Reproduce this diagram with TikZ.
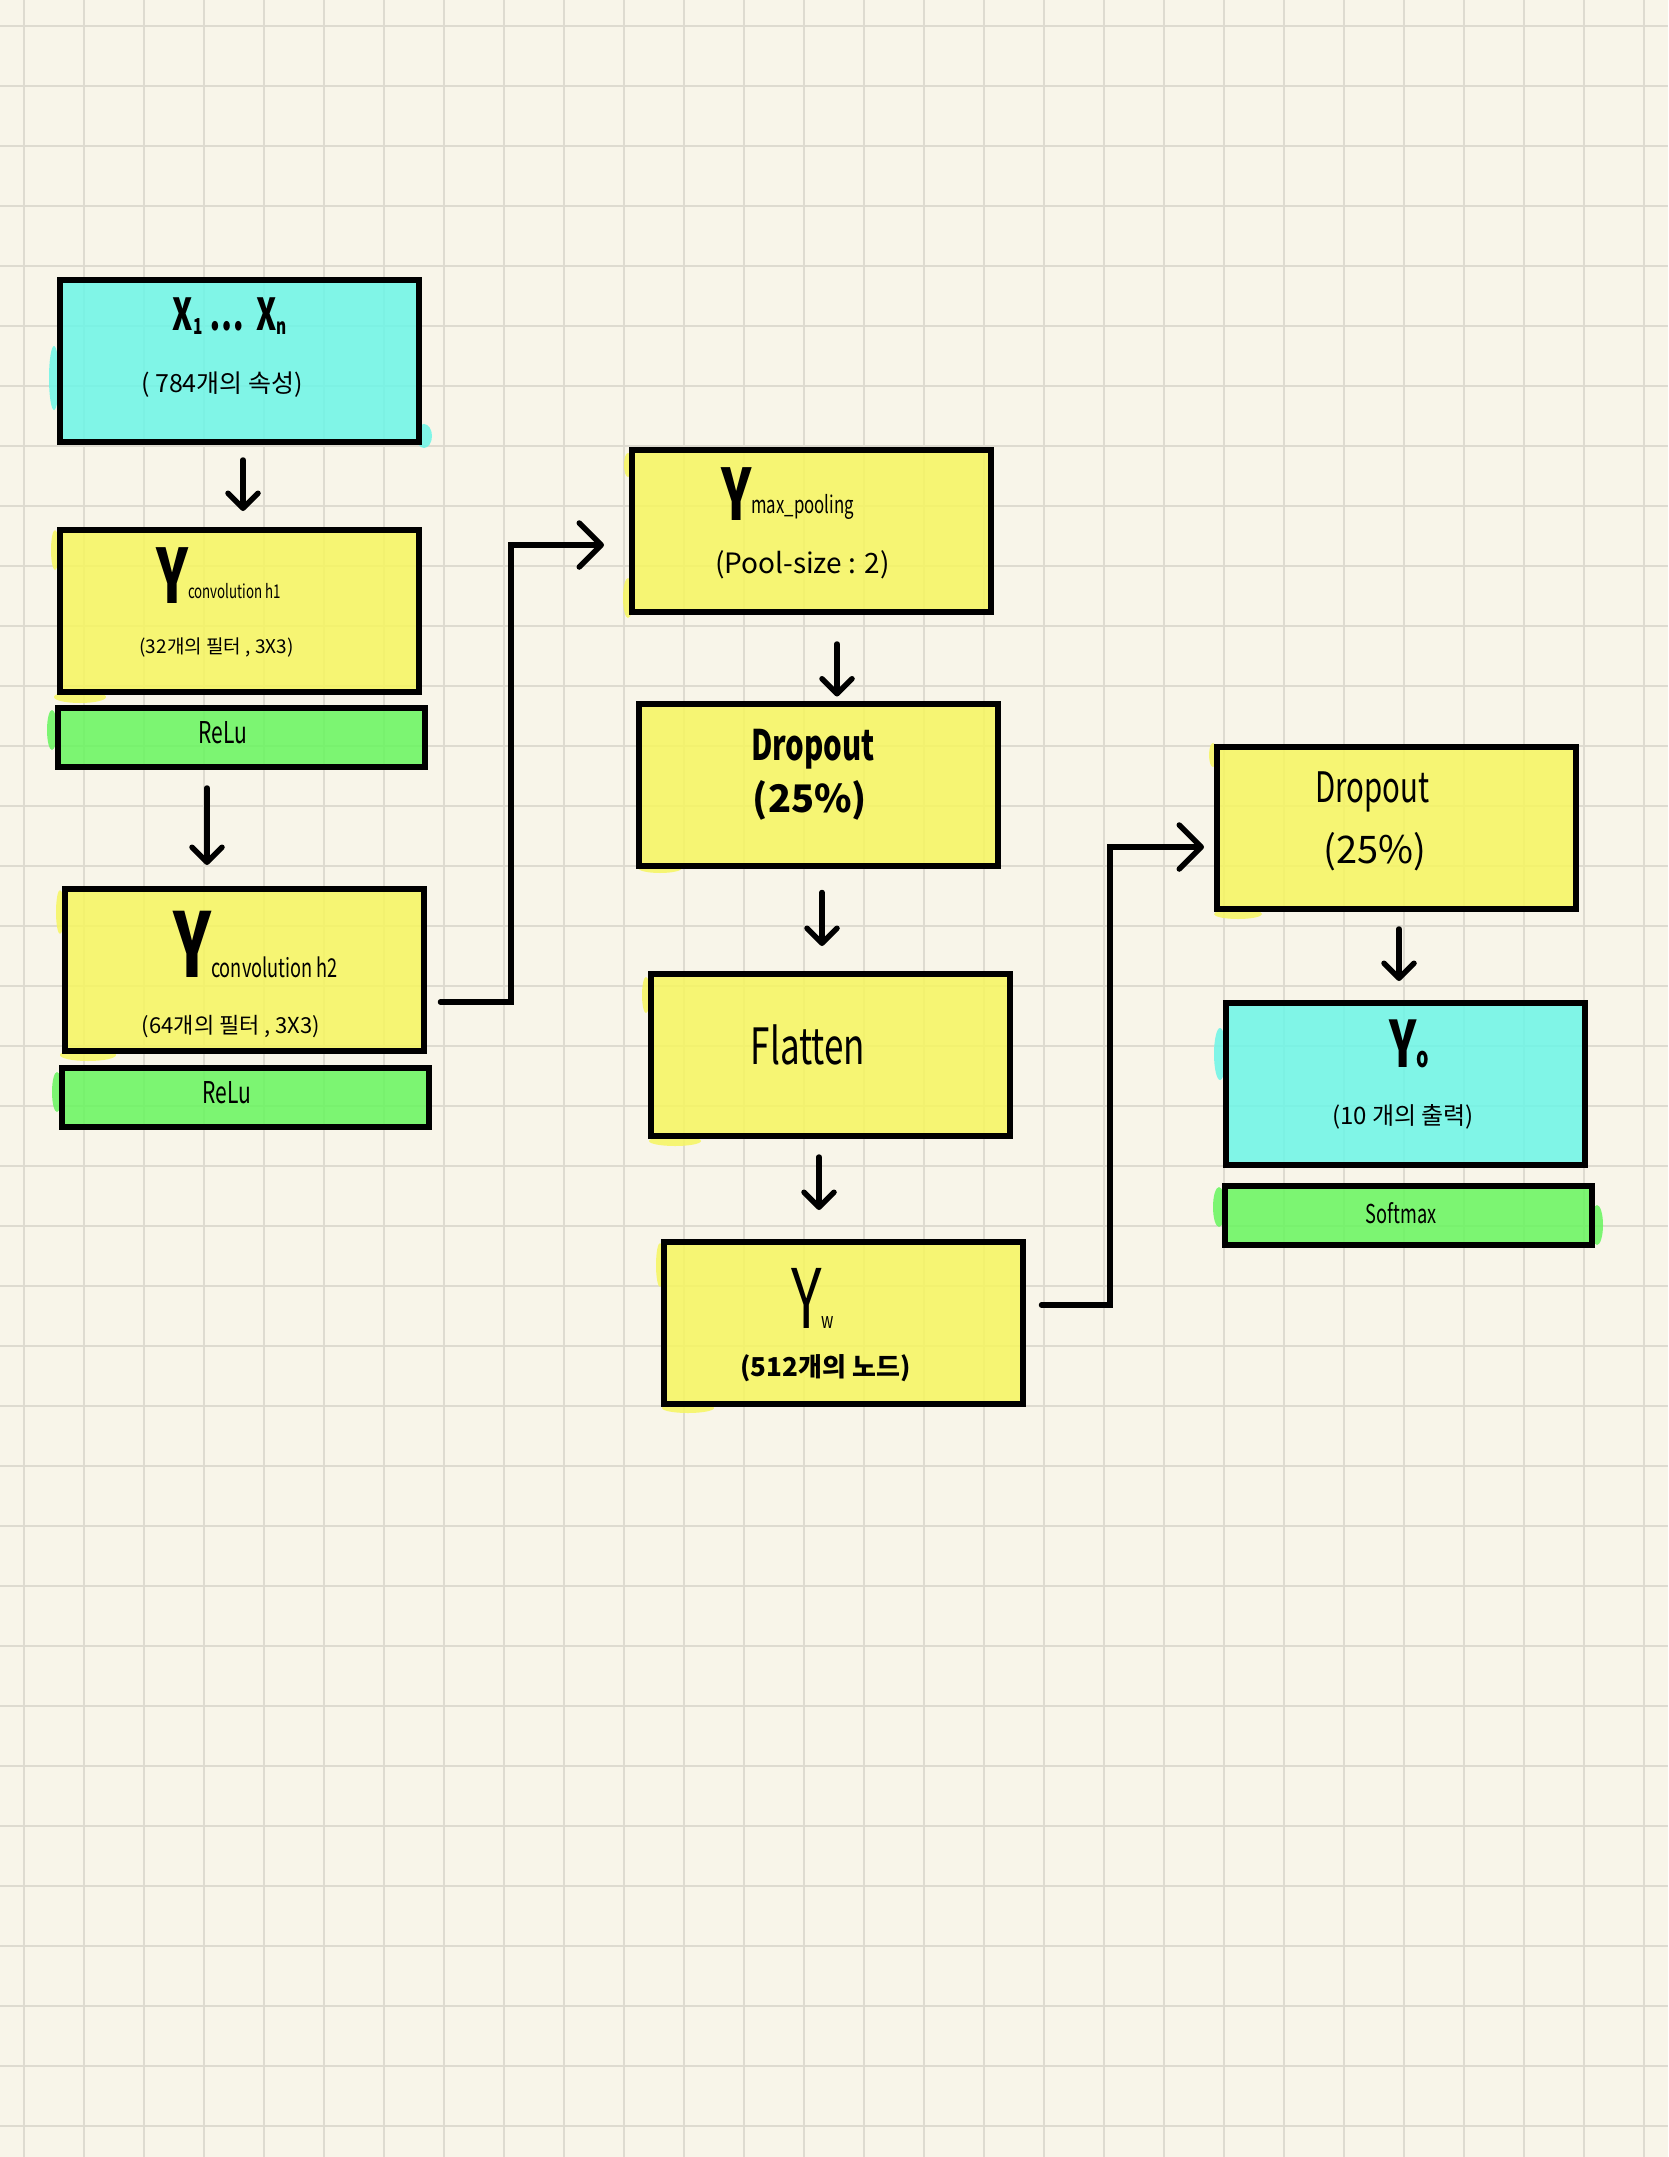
\documentclass[tikz,border=0pt]{standalone}
\usepackage{fontspec}
\usetikzlibrary{arrows.meta,calc}
\setmainfont{Noto Sans CJK KR}
\newfontfamily\hand[FakeStretch=0.7]{Noto Sans CJK KR}
\newcommand{\fs}[1]{\fontsize{#1}{#1}\selectfont}

\definecolor{paper}{HTML}{F8F5E9}
\definecolor{gridline}{HTML}{DEDBD0}
\definecolor{cyanfill}{RGB}{107,245,231}
\definecolor{yellowfill}{RGB}{246,245,95}
\definecolor{greenfill}{RGB}{103,245,94}

\tikzset{
  netbox/.style={draw=black, line width=6pt, fill opacity=0.85,
    minimum width=359pt, minimum height=162pt, inner sep=0pt},
  cyanbox/.style={netbox, fill=cyanfill},
  yellowbox/.style={netbox, fill=yellowfill},
  actbar/.style={netbox, fill=greenfill, minimum width=367pt, minimum height=59pt},
  smudge/.style={fill opacity=0.85},
  txt/.style={inner sep=0pt, text=black},
  conn/.style={line width=5.5pt, line cap=round, line join=round,
    -{Straight Barb[length=15pt,width=30pt,line cap=round,line join=round]}},
  elbow/.style={line width=5.5pt, line cap=round, line join=miter,
    -{Straight Barb[length=22pt,width=44pt,line cap=round,line join=round]}},
}

\begin{document}
\begin{tikzpicture}[x=1pt,y=-1pt]
  % paper and grid
  \fill[paper] (0,0) rectangle (1668,2157);
  \useasboundingbox (0,0) rectangle (1668,2157);
  \foreach \gx in {24,84,...,1668} \draw[gridline,line width=2pt] (\gx,0) -- (\gx,2157);
  \foreach \gy in {26,86,...,2157} \draw[gridline,line width=2pt] (0,\gy) -- (1668,\gy);

  % highlighter strokes running past the box edges
  \fill[smudge,cyanfill]   (54,378) ellipse [x radius=5, y radius=32];
  \fill[smudge,cyanfill]   (424,436) ellipse [x radius=8, y radius=12];
  \fill[smudge,yellowfill] (80,697) ellipse [x radius=26, y radius=6];
  \fill[smudge,yellowfill] (55,550) ellipse [x radius=4, y radius=20];
  \fill[smudge,greenfill]  (52,730) ellipse [x radius=5, y radius=20];
  \fill[smudge,yellowfill] (88,1055) ellipse [x radius=28, y radius=6];
  \fill[smudge,yellowfill] (60,912) ellipse [x radius=4, y radius=22];
  \fill[smudge,greenfill]  (57,1092) ellipse [x radius=5, y radius=20];
  \fill[smudge,yellowfill] (628,598) ellipse [x radius=5, y radius=20];
  \fill[smudge,yellowfill] (628,465) ellipse [x radius=4, y radius=12];
  \fill[smudge,yellowfill] (660,868) ellipse [x radius=22, y radius=5];
  \fill[smudge,yellowfill] (675,1141) ellipse [x radius=26, y radius=5];
  \fill[smudge,yellowfill] (646,995) ellipse [x radius=4, y radius=18];
  \fill[smudge,yellowfill] (688,1408) ellipse [x radius=26, y radius=5];
  \fill[smudge,yellowfill] (660,1265) ellipse [x radius=4, y radius=22];
  \fill[smudge,yellowfill] (1238,914) ellipse [x radius=24, y radius=5];
  \fill[smudge,yellowfill] (1213,755) ellipse [x radius=4, y radius=12];
  \fill[smudge,cyanfill]   (1220,1054) ellipse [x radius=6, y radius=26];
  \fill[smudge,greenfill]  (1219,1207) ellipse [x radius=6, y radius=20];
  \fill[smudge,greenfill]  (1597,1225) ellipse [x radius=6, y radius=20];

  % layer boxes
  \node[cyanbox]   (in)    at (239.5,361)   {};
  \node[yellowbox] (h1)    at (239,611)     {};
  \node[actbar]    (relu1) at (241,737.5)   {};
  \node[yellowbox] (h2)    at (244,970)     {};
  \node[actbar]    (relu2) at (245.5,1097)  {};
  \node[yellowbox] (mp)    at (811.5,531)   {};
  \node[yellowbox] (do1)   at (818.5,784.5) {};
  \node[yellowbox] (fl)    at (830.5,1055)  {};
  \node[yellowbox] (yw)    at (843,1323)    {};
  \node[yellowbox] (do2)   at (1396,828)    {};
  \node[cyanbox]   (yo)    at (1405.5,1084) {};
  \node[actbar]    (sm)    at (1408.5,1215.5) {};

  % labels
  \node[txt] (inT) at (230,316) {\hand\bfseries\fs{44}X\raisebox{-4pt}{\fs{22}1}\,…\;X\raisebox{-4pt}{\fs{22}n}};
  \node[txt] (inS) at (222,385) {\fs{25}( 784개의 속성)};

  \node[txt,anchor=base west] (h1T) at (156,603)
    {\hand\bfseries\fs{75}Y\mdseries\fs{19}\raisebox{5pt}{convolution h1}};
  \node[txt] (h1S) at (216.5,647) {\fs{19}(32개의 필터 , 3X3)};
  \node[txt] (relu1T) at (223,733) {\hand\fs{30}ReLu};

  \node[txt,anchor=base west] (h2T) at (173,977)
    {\hand\bfseries\fs{89}Y\mdseries\fs{26}convolution h2};
  \node[txt] (h2S) at (231,1027) {\fs{22}(64개의 필터 , 3X3)};
  \node[txt] (relu2T) at (227,1093) {\hand\fs{30}ReLu};

  \node[txt,anchor=base west] (mpT) at (721,520)
    {\hand\bfseries\fs{71}Y\mdseries\fs{24}\raisebox{7pt}{max\_pooling}};
  \node[txt] (mpS) at (802.5,565) {\fs{28}(Pool-size : 2)};

  \node[txt] (do1T) at (813,749) {\hand\bfseries\fs{42}Dropout};
  \node[txt] (do1S) at (810,800) {\bfseries\fs{38}(25\%)};

  \node[txt] (flT) at (808,1045) {\hand\fs{50}Flatten};

  \node[txt,anchor=base west] (ywT) at (791,1328)
    {\hand\fs{82}Y\fs{22}w};
  \node[txt] (ywS) at (825.5,1368) {\bfseries\fs{26}(512개의 노드)};

  \node[txt] (do2T) at (1372.5,792) {\hand\fs{42}Dropout};
  \node[txt] (do2S) at (1375,852) {\fs{38}(25\%)};

  \node[txt,anchor=base west] (yoT) at (1389,1067)
    {\hand\bfseries\fs{64}Y\fs{28}o};
  \node[txt] (yoS) at (1403,1117) {\fs{24}(10 개의 출력)};
  \node[txt] (smT) at (1401,1213) {\hand\fs{26}Softmax};

  % vertical connectors
  \draw[conn, shorten <=15pt, shorten >=16pt] (in.south -| 243,0) -- (h1.north -| 243,0);
  \draw[conn, shorten <=18pt, shorten >=21pt] (relu1.south -| 207,0) -- (h2.north -| 207,0);
  \draw[conn, shorten <=29pt, shorten >=4pt] (mp.south -| 837,0) -- (do1.north -| 837,0);
  \draw[conn, shorten <=24pt, shorten >=25pt] (do1.south -| 822,0) -- (fl.north -| 822,0);
  \draw[conn, shorten <=18pt, shorten >=29pt] (fl.south -| 819,0) -- (yw.north -| 819,0);
  \draw[conn, shorten <=17pt, shorten >=19pt] (do2.south -| 1399,0) -- (yo.north -| 1399,0);

  % elbow connectors between columns
  \coordinate (h2out) at ($(h2.east)+(14,32)$);
  \coordinate (mpin)  at ($(mp.west)+(-25,14)$);
  \draw[elbow] (h2out) -- (h2out -| 511,0) |- (mpin);

  \coordinate (ywout) at ($(yw.east)+(16,-18)$);
  \coordinate (do2in) at ($(do2.west)+(-9.5,19)$);
  \draw[elbow] (ywout) -- (ywout -| 1110,0) |- (do2in);
\end{tikzpicture}
\end{document}
